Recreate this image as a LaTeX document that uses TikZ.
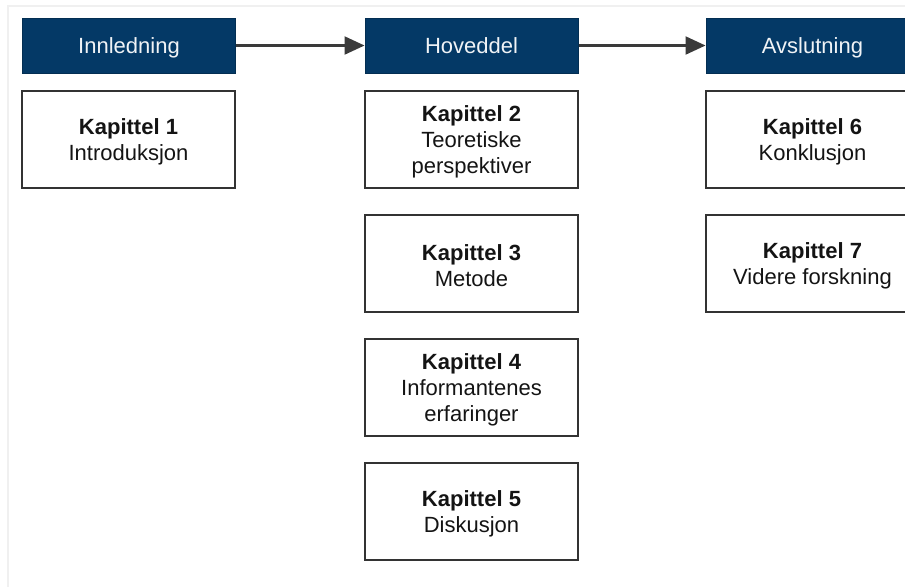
\documentclass[tikz,border=0pt]{standalone}
\usepackage{fontspec}
\setmainfont{Liberation Sans}
\usetikzlibrary{arrows.meta}
\definecolor{navy}{RGB}{4,57,102}
\definecolor{framegray}{RGB}{240,240,240}
\definecolor{edgegray}{RGB}{51,51,51}
\definecolor{arrowgray}{RGB}{58,58,58}
% bold chapter title with a tall strut so the text block sits a little lower
\newcommand\kaptittel[1]{\rule{0pt}{22pt}\textbf{Kapittel #1}}
\tikzset{
  header/.style={draw=navy!80!black, line width=1pt, fill=navy, text=white!94!navy,
    minimum width=213pt, minimum height=55pt, inner sep=0pt,
    text height=20pt, text depth=4pt,
    font=\fontsize{22}{26}\selectfont},
  chapter/.style={draw=edgegray, line width=2pt, fill=white, text=black!92,
    minimum width=213pt, minimum height=97pt, inner sep=0pt, align=center,
    font=\fontsize{22}{26}\selectfont},
  flow/.style={draw=arrowgray, line width=2.2pt,
    -{Triangle[length=20pt,width=18pt]}}
}
\begin{document}
\begin{tikzpicture}[x=1pt,y=-1pt]
  \useasboundingbox (0,0) rectangle (905,587);
  \clip (0,0) rectangle (905,587);
  \fill[white] (0,0) rectangle (905,587);
  % faint page frame
  \draw[framegray, line width=1.5pt] (8,587) -- (8,6) -- (905,6);

  % section headers
  \node[header] (h1) at (129,45.5) {Innledning};
  \node[header] (h2) at (471.5,45.5) {Hoveddel};
  \node[header] (h3) at (812.5,45.5) {Avslutning};

  % chapters
  \node[chapter] (k1) at (128.5,139) {\kaptittel{1}\\Introduksjon};
  \node[chapter] (k2) at (471.5,139) {\kaptittel{2}\\Teoretiske\\perspektiver};
  \node[chapter] (k3) at (471.5,263) {\kaptittel{3}\\Metode};
  \node[chapter] (k4) at (471.5,387) {\kaptittel{4}\\Informantenes\\erfaringer};
  \node[chapter] (k5) at (471.5,511) {\kaptittel{5}\\Diskusjon};
  \node[chapter] (k6) at (812.5,139) {\kaptittel{6}\\Konklusjon};
  \node[chapter] (k7) at (812.5,263) {\kaptittel{7}\\Videre forskning};

  % flow between sections
  \draw[flow] (h1.east) -- (h2.west);
  \draw[flow] (h2.east) -- (h3.west);
\end{tikzpicture}
\end{document}
